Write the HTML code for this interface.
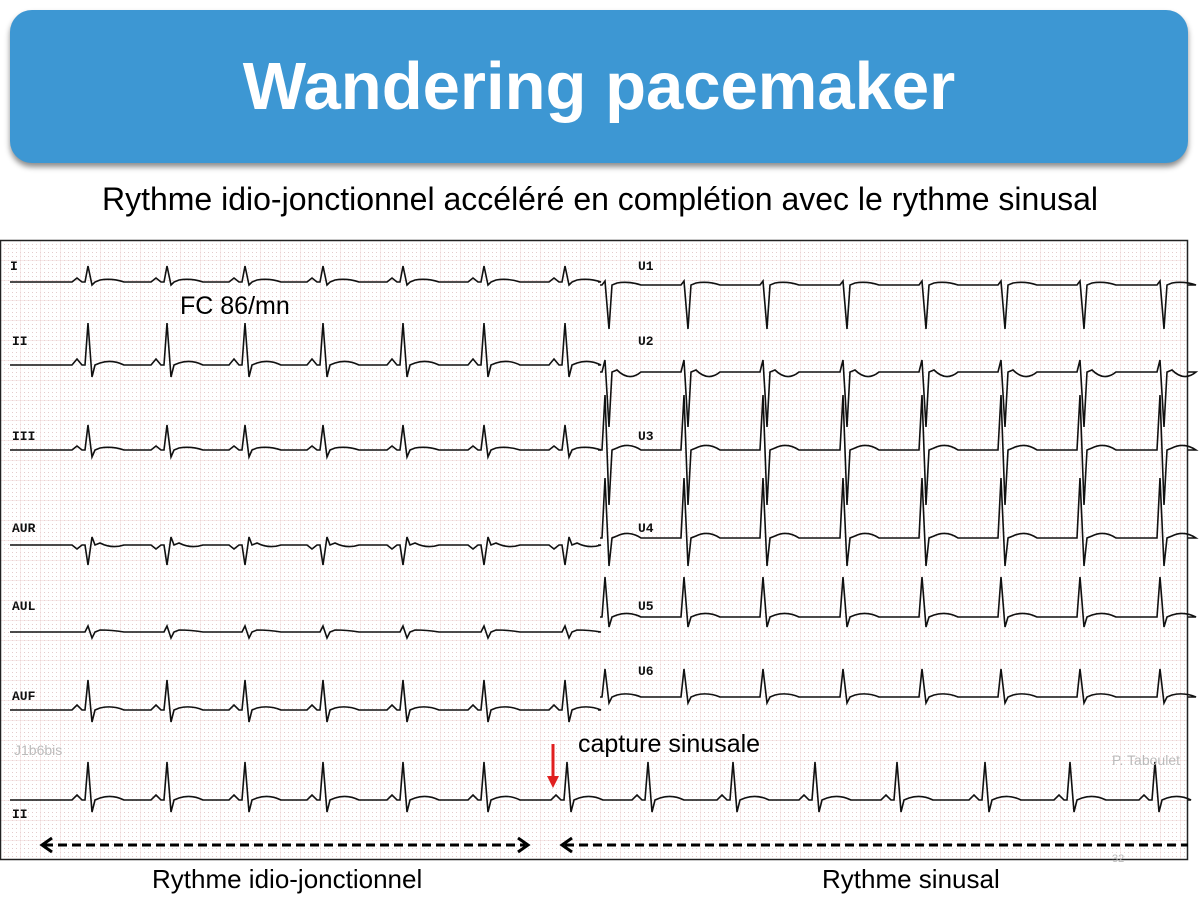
<!DOCTYPE html>
<html><head><meta charset="utf-8"><style>
body{margin:0;width:1200px;height:900px;background:#fff;position:relative;overflow:hidden;font-family:"Liberation Sans",sans-serif}
.ban{position:absolute;left:10px;top:10px;width:1178px;height:153px;background:#3d97d3;border-radius:22px;box-shadow:0 4px 6px rgba(0,0,0,.45)}
.ban div{color:#fff;font-weight:bold;font-size:67px;text-align:center;line-height:153px}
.t{position:absolute;white-space:nowrap;color:#000}
</style></head><body>
<div class="ban"><div>Wandering pacemaker</div></div>
<div class="t" style="left:0;width:1200px;text-align:center;top:181px;font-size:32px">Rythme idio-jonctionnel accéléré en complétion avec le rythme sinusal</div>
<svg id="s" width="1200" height="900" style="position:absolute;left:0;top:0">
<defs>
<pattern id="sm" width="4" height="4" patternUnits="userSpaceOnUse"><rect x="0" y="0" width="1" height="1" fill="#e4cccc"/></pattern>
<pattern id="bg" width="20" height="20" patternUnits="userSpaceOnUse"><path d="M0 0H20M0 0V20" stroke="#efd6d6" stroke-width="1" fill="none"/></pattern>
</defs>
<rect x="0" y="240" width="1188" height="620" fill="#fff"/>
<rect x="0" y="240" width="1188" height="620" fill="url(#sm)"/>
<rect x="0" y="240" width="1188" height="620" fill="url(#bg)"/>
<rect x="0.5" y="240.5" width="1187" height="619" fill="none" stroke="#222" stroke-width="1.5"/>
<g id="tr" fill="none" stroke="#111" stroke-width="1.6"></g>
<g font-family="Liberation Mono,monospace" font-size="13" font-weight="bold" fill="#111">
<text x="10" y="270">I</text><text x="12" y="345">II</text><text x="12" y="440">III</text>
<text x="12" y="532">AUR</text><text x="12" y="610">AUL</text><text x="12" y="700">AUF</text><text x="12" y="818">II</text>
<text x="638" y="270">U1</text><text x="638" y="345">U2</text><text x="638" y="440">U3</text>
<text x="638" y="532">U4</text><text x="638" y="610">U5</text><text x="638" y="675">U6</text>
</g>
<g stroke="#000" stroke-width="3" stroke-dasharray="9 5" fill="none">
<line x1="44" y1="845" x2="525" y2="845"/><line x1="565" y1="845" x2="1188" y2="845"/></g>
<path d="M52 838L42 845L52 852M518 838L528 845L518 852M572 838L562 845L572 852" stroke="#000" stroke-width="3" fill="none"/>
<line x1="553" y1="744" x2="553" y2="780" stroke="#e02020" stroke-width="3"/>
<path d="M547 776L553 788L559 776Z" fill="#e02020"/>
</svg>
<div class="t" style="left:180px;top:292px;font-size:25px">FC 86/mn</div>
<div class="t" style="left:578px;top:730px;font-size:25px">capture sinusale</div>
<div class="t" style="left:14px;top:742px;font-size:14px;color:#bbb">J1b6bis</div>
<div class="t" style="left:1112px;top:752px;font-size:14px;color:#bbb">P. Taboulet</div>
<div class="t" style="left:1112px;top:853px;font-size:11px;color:#bbb">32</div>
<div class="t" style="left:152px;top:864px;font-size:26px">Rythme idio-jonctionnel</div>
<div class="t" style="left:822px;top:864px;font-size:26px">Rythme sinusal</div>
<script>
var g=document.getElementById('tr');
function lead(x0,x1,y,beats,r,s,t,p){
 var d='M'+x0+' '+y;
 beats.forEach(function(b){
  if(b<x0||b>x1)return;
  if(p)d+=' L'+(b-16)+' '+y+' L'+(b-11)+' '+(y-p)+' L'+(b-6)+' '+y;
  d+=' L'+(b-3)+' '+y+' L'+b+' '+(y-r)+' L'+(b+4)+' '+(y+s)+' L'+(b+7)+' '+y+' L'+(b+12)+' '+(y-2)+' Q'+(b+24)+' '+(y-t)+' '+(b+36)+' '+y;
 });
 d+=' L'+x1+' '+y;
 var e=document.createElementNS('http://www.w3.org/2000/svg','path');e.setAttribute('d',d);g.appendChild(e);
}
var L=[88,167,245,323,403,484,565],R=[605,684,763,843,922,1001,1080,1160];
lead(10,598,282,L,16,3,4,4);
lead(10,598,365,L,42,12,6,6);
lead(10,598,450,L,25,7,4,4);
lead(10,598,545,L,-20,-8,-4,-4);
lead(10,598,632,L,6,6,2,0);
lead(10,598,710,L,30,12,5,5);
lead(600,1188,285,R,4,44,4,0);
lead(600,1188,372,R,12,55,-10,0);
lead(600,1188,450,R,55,55,8,0);
lead(600,1188,538,R,60,28,8,0);
lead(600,1188,617,R,40,10,6,0);
lead(600,1188,697,R,28,6,5,0);
lead(10,1188,800,[88,167,245,323,403,484,567,648,733,815,897,985,1070,1155],38,12,6,5);
</script>
</body></html>
